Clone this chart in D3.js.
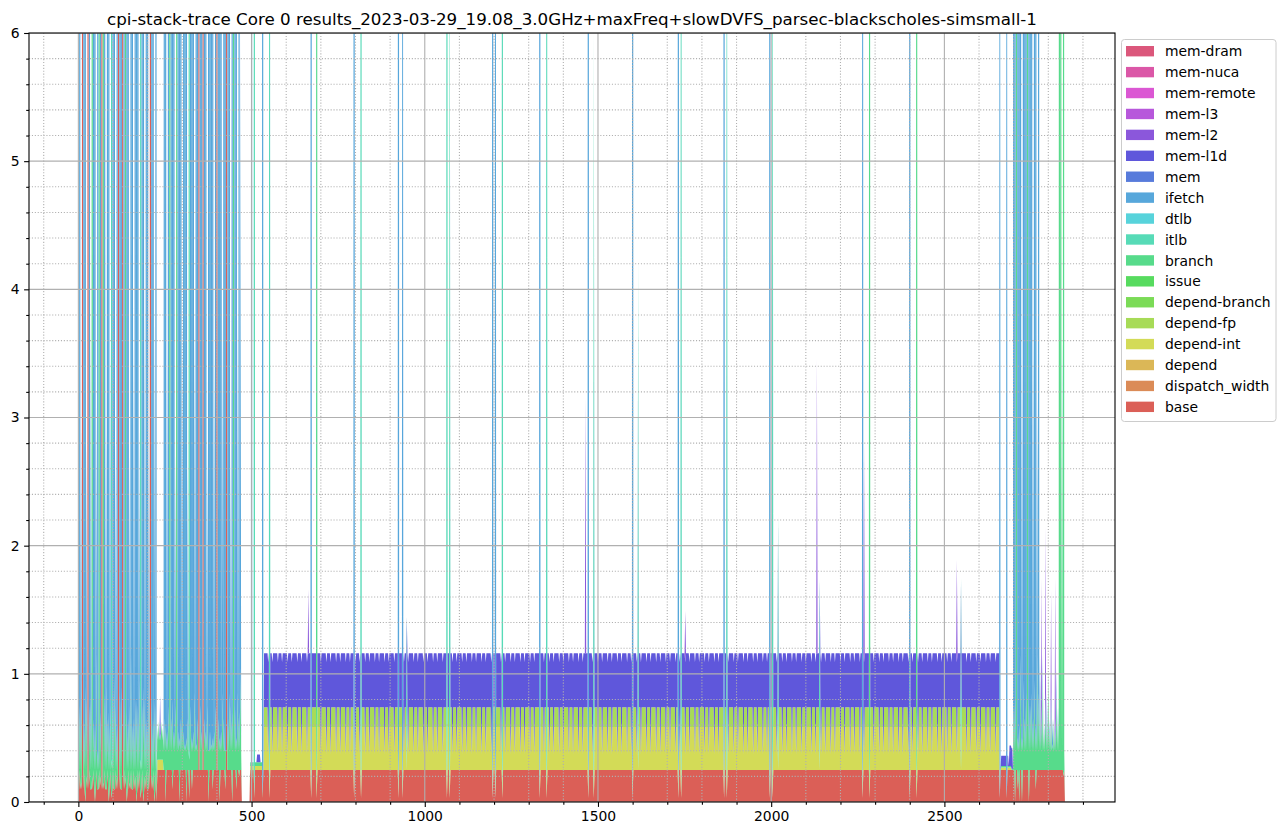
<!DOCTYPE html>
<html><head><meta charset="utf-8">
<script src="https://cdn.jsdelivr.net/npm/d3@7"></script>
<style>
body{margin:0;background:#fff;}
text{font-family:"DejaVu Sans",sans-serif;fill:#000;}
</style>
</head><body>
<svg id="chart" width="1286" height="836"></svg>
<script>
// ---------------- DATA ----------------
const chartTitle = "cpi-stack-trace Core 0 results_2023-03-29_19.08_3.0GHz+maxFreq+slowDVFS_parsec-blackscholes-simsmall-1";
// stack order, bottom to top
const seriesNames = ["base","dispatch_width","depend","depend-int","depend-fp","depend-branch","issue","branch","itlb","dtlb","ifetch","mem","mem-l1d","mem-l2","mem-l3","mem-remote","mem-nuca","mem-dram"];
const xTickValues = [0, 500, 1000, 1500, 2000, 2500];
const yTickValues = [0, 1, 2, 3, 4, 5, 6];
const sampleStep = 2;      // time between samples
const sampleEnd = 2850;    // last sample time
const noisyStep = 4;       // time between listed samples of the noisy phases

// constant runs [from, to, value]
const baseRuns      = [[0, 224, 0.1], [228, 470, 0.25], [496, 2846, 0.25]];
const dependIntRuns = [[228, 244, 0.08], [496, 532, 0.03], [536, 2660, 0.335], [2664, 2692, 0.02]];
const dependFpRuns  = [[536, 2660, 0.155]];
const branchRuns    = [[0, 470, 0.15], [496, 532, 0.03], [2664, 2696, 0.01], [2700, 2846, 0.15]];
const memL1dRuns    = [[516, 524, 0.06], [536, 2660, 0.42], [2664, 2684, 0.08], [2688, 2696, 0.16]];

// noisy start phase, listed every 4 time units from t=0
const ifetchLeft = [5,40,2,1,40,40,2,1,40,3, 1,40,40,2,40,1,40,1,1,40, 2,40,40,3,1,40,40,2,40,1, 40,40,1,40,1,40,40,2,40,40,
  3,40,40,40,2,1,40,40,3,40, 40,2,1,40,40,3,40, 0,0,0,0,0, 40,40,3,40,1,40,40,40,2,1, 40,40,40,3,40,40,40,2,1,40,
  40,40,3,40,40,1,40,40,1,40, 40,2,40,40,40,40,3,40,1,40, 40,40,3,40,40,1,40,40,2,40, 1,40,40,3,40,5,0];
const baseLeft = [0.1,0.25,0.15,40,0.25,0,0.2,40,0.25,0.1, 0.2,0.25,0,0.25,0.1,0.25,0.2,40,0.15,0.25, 0.1,0.25,0,0.25,0.2,0.25,0.1,0.25,0.2,40,
  0.25,0.1,40,0.25,0.2,0,0.25,0.15,0.25,0.1, 0.25,0.2,0,0.25,0.25,0.1,0.25,0,0.2,0.25, 0.1,0.25,40,0.2,0.25,0,0.25, 0.25,0.25,0.25,0.25,0.25,
  0.25,0,0.25,0.25,0.25,0.25,0.1,0.25,0.25,0.25, 0.25,0,0.25,0.25,0.25,0.25,0,0.25,0.25,0.25, 0.1,0.25,0.25,0.25,0.25,40,0.25,0.25,40,0.25,
  0.25,0.25,0,0.25,0.25,0.1,0.25,0.25,40,0.25, 0,0.25,0.25,0.25,0.1,40,0.25,0.25,0.25,0, 0.25,0.25,0.1,0.25,0.2,0.25,0];
const branchLeft = [0.3,0.5,0.8,0.2,0.4,0.9,0.6,0.3,0.5,0.7, 40,0.4,0.6,0.9,0.3,40,0.5,0.4,40,0.6, 0.8,0.4,0.7,0.5,0.3,0.6,0.9,0.5,0.4,0.3,
  0.6,0.8,0.2,0.5,40,0.7,0.4,0.6,0.9,0.5, 0.4,0.6,0.8,0.5,0.7,0.3,0.5,0.9,0.6,0.4, 0.5,0.7,0.3,0.6,0.4,0.8,0.5, 0.25,0.3,0.2,0.3,0.25,
  0.4,0.6,0.3,0.5,40,0.4,0.7,0.3,0.5,40, 0.3,0.5,0.4,0.6,0.3,0.2,0.5,0.4,0.3,0.5, 0.4,0.3,0.6,0.2,0.4,0.3,0.5,0.3,0.2,0.4,
  0.3,0.5,0.4,0.3,0.2,0.4,0.3,0.5,0.3,0.4, 0.5,0.3,0.6,0.4,0.3,0.2,0.4,0.6,0.5,0.7, 40,0.5,0.4,0.6,0.5,0.8,0];

// noisy end phase, listed every 4 time units from t=2696
const rightStart = 2696;
const ifetchRight = [0, 40,40,2,40,40,40,3,40,40,40, 2,40,40,40,3,40,40,2,40, 0.3,0.1,0.2,0.05,0.1,0.2,0,0.1,0.1,0.2,0,0.1,0.2,0.1, 0.5,0.3,0.4,0.2,0];
const baseRight = [0.25, 0.25,0,0.25,0.1,0,0.25,0,0.25,0.25,0.25, 0.25,0,0.25,0.25,0.25,0.25,0.1,0.25,0.25,
  0.25,0.25,0.25,0.25,0.25,0.25,0.25,0.25,0.25,0.25,0.25,0.25,0.25,0.25, 0.25,0.25,0.25,0.2,0];
const branchRight = [0.01, 0.5,0.8,40,0.4,0.6,0.9,0.5,0.7,0.4,0.6, 40,0.8,0.5,0.6,0.4,0.7,0.5,0.9,0.6,
  0.6,0.4,0.7,0.3,0.5,0.4,0.8,0.3,0.5,0.2,0.4,0.3,0.6,0.4, 40,40,3,40,0];

// short dips of the steady phase (times), and the levels reached [depend-int, depend-fp, mem-l1d]
const dipX = [548,560,576,588,604,616,632,644,660,672,688,700,716,728,744,756,772,784,800,812,828,840,856,868,884,896,912,924,940,952,968,980,996,1008,1024,1036,1052,1064,1080,1092,1108,1120,1136,1148,1164,1176,1192,1204,1220,1232,1248,1260,1276,1288,1304,1316,1332,1344,1360,1372,1388,1400,1416,1428,1444,1456,1472,1484,1500,1512,1528,1540,1556,1568,1584,1596,1612,1624,1640,1652,1668,1680,1696,1708,1724,1736,1752,1764,1780,1792,1808,1820,1836,1848,1864,1876,1892,1904,1920,1932,1948,1960,1976,1988,2004,2016,2032,2044,2060,2072,2088,2100,2116,2128,2144,2156,2172,2184,2200,2212,2228,2240,2256,2268,2284,2296,2312,2324,2340,2352,2368,2380,2396,2408,2424,2436,2452,2464,2480,2492,2508,2520,2536,2548,2564,2576,2592,2604,2620,2632,2648];
const dipLevels = [0.12, 0, 0.72];

// single-sample spikes [time, series, value]
const spikes = [
  [96,"itlb",40],[180,"itlb",40],[320,"itlb",40],[236,"mem-l1d",0.3],
  [500,"ifetch",40],[508,"itlb",40],[532,"ifetch",40],[552,"itlb",20],
  [664,"mem-l2",0.5],[672,"ifetch",40],[688,"branch",30],
  [796,"ifetch",40],[816,"itlb",30],
  [924,"ifetch",40],[936,"ifetch",15],[948,"itlb",1.2],
  [1064,"itlb",30],[1072,"itlb",8],
  [1196,"ifetch",40],[1204,"ifetch",20],[1224,"itlb",30],
  [1332,"ifetch",40],[1352,"itlb",20],
  [1464,"mem-l2",2.0],[1472,"ifetch",40],[1488,"itlb",6],
  [1600,"ifetch",40],[1616,"itlb",4],
  [1732,"ifetch",40],[1740,"itlb",15],[1752,"mem-l2",0.4],
  [1864,"ifetch",40],[1872,"itlb",10],
  [1996,"ifetch",40],[2004,"itlb",10],[2020,"itlb",2],
  [2132,"mem-l2",2.3],[2140,"itlb",1.5],
  [2264,"ifetch",20],[2268,"mem-l2",1.7],[2284,"branch",30],
  [2400,"ifetch",40],[2420,"branch",30],
  [2536,"mem-l2",0.8],[2548,"itlb",1.5],
  [2660,"ifetch",15],[2680,"ifetch",15],
  [2780,"mem-l2",1.0],[2792,"mem-l2",1.3],[2808,"mem-l2",0.8],[2820,"mem-l2",1.1]
];

// ---------------- BUILD ROWS ----------------
const rows = d3.range(0, sampleEnd + 1, sampleStep).map(t => {
  const r = {t};
  seriesNames.forEach(k => r[k] = 0);
  return r;
});
const idx = t => Math.round(t / sampleStep);
function applyRuns(key, runs) {
  runs.forEach(([a, b, v]) => { for (let i = idx(a); i <= idx(b); i++) rows[i][key] = v; });
}
applyRuns("base", baseRuns);
applyRuns("depend-int", dependIntRuns);
applyRuns("depend-fp", dependFpRuns);
applyRuns("branch", branchRuns);
applyRuns("mem-l1d", memL1dRuns);
function applySeq(key, start, arr) { arr.forEach((v, j) => { rows[idx(start + j * noisyStep)][key] = v; }); }
applySeq("ifetch", 0, ifetchLeft);
applySeq("base", 0, baseLeft);
applySeq("branch", 0, branchLeft);
applySeq("ifetch", rightStart, ifetchRight);
applySeq("base", rightStart, baseRight);
applySeq("branch", rightStart, branchRight);
dipX.forEach(t => {
  const r = rows[idx(t)];
  if (r["mem-l1d"] > 0.3) { r["depend-int"] = dipLevels[0]; r["depend-fp"] = dipLevels[1]; r["mem-l1d"] = dipLevels[2]; }
});
spikes.forEach(([t, key, v]) => {
  const r = rows[idx(t)];
  if (!key.startsWith("mem")) {
    if (v >= 5) r.base = Math.min(r.base, 0.03);
    r["depend-int"] = 0; r["depend-fp"] = 0; r["mem-l1d"] = 0;
  }
  r[key] += v;
});

// ---------------- DRAW ----------------
const P = {left: 29, right: 1115, top: 33, bottom: 802};
const svg = d3.select("#chart");
const span = sampleEnd;
const x = d3.scaleLinear().domain([-0.05 * span, span * 1.05]).range([P.left, P.right]);
const y = d3.scaleLinear().domain([0, d3.max(yTickValues)]).range([P.bottom, P.top]);
const color = k => d3.hsl((seriesNames.indexOf(k) / seriesNames.length + 0.01) * 360, 0.65, 0.6).formatHex();

svg.append("rect").attr("width", 1286).attr("height", 836).attr("fill", "#fff");
svg.append("defs").append("clipPath").attr("id", "clip")
  .append("rect").attr("x", P.left).attr("y", P.top).attr("width", P.right - P.left).attr("height", P.bottom - P.top);

const stacked = d3.stack().keys(seriesNames)(rows);
const area = d3.area().x(d => x(d.data.t)).y0(d => y(d[0])).y1(d => y(d[1]));
svg.append("g").attr("clip-path", "url(#clip)")
  .selectAll("path").data(stacked).join("path")
  .attr("fill", d => color(d.key)).attr("d", area);

// grid (drawn above the areas)
const xd = x.domain();
const xMinor = d3.range(-100, 3000, 100).filter(v => v % 500 !== 0 && v >= xd[0] && v <= xd[1]);
const yMinor = d3.range(1, 30).map(v => v / 5).filter(v => Math.abs(v - Math.round(v)) > 1e-6);
const grid = svg.append("g").attr("clip-path", "url(#clip)");
grid.selectAll(".gxm").data(xMinor).join("line")
  .attr("x1", d => x(d)).attr("x2", d => x(d)).attr("y1", P.top).attr("y2", P.bottom)
  .attr("stroke", "#b0b0b0").attr("stroke-width", 1.1).attr("stroke-dasharray", "1.1,1.8");
grid.selectAll(".gym").data(yMinor).join("line")
  .attr("y1", d => y(d)).attr("y2", d => y(d)).attr("x1", P.left).attr("x2", P.right)
  .attr("stroke", "#b0b0b0").attr("stroke-width", 1.1).attr("stroke-dasharray", "1.1,1.8");
grid.selectAll(".gx").data(xTickValues).join("line")
  .attr("x1", d => x(d)).attr("x2", d => x(d)).attr("y1", P.top).attr("y2", P.bottom)
  .attr("stroke", "#b0b0b0").attr("stroke-width", 1.1);
grid.selectAll(".gy").data(yTickValues).join("line")
  .attr("y1", d => y(d)).attr("y2", d => y(d)).attr("x1", P.left).attr("x2", P.right)
  .attr("stroke", "#b0b0b0").attr("stroke-width", 1.1);

// axes
const xAxis = svg.append("g").attr("transform", `translate(0,${P.bottom})`)
  .call(d3.axisBottom(x).tickValues(xTickValues).tickSize(4.9).tickPadding(4.5).tickFormat(d3.format("d")));
const xAxisMinor = svg.append("g").attr("transform", `translate(0,${P.bottom})`)
  .call(d3.axisBottom(x).tickValues(xMinor).tickSize(2.8).tickFormat(""));
const yAxis = svg.append("g").attr("transform", `translate(${P.left},0)`)
  .call(d3.axisLeft(y).tickValues(yTickValues).tickSize(4.9).tickPadding(4.5).tickFormat(d3.format("d")));
const yAxisMinor = svg.append("g").attr("transform", `translate(${P.left},0)`)
  .call(d3.axisLeft(y).tickValues(yMinor).tickSize(2.8).tickFormat(""));
[xAxis, xAxisMinor, yAxis, yAxisMinor].forEach(a => {
  a.select(".domain").remove();
  a.selectAll(".tick line").attr("stroke", "#000").attr("stroke-width", 1.1);
  a.selectAll(".tick text").attr("font-size", "13.9px").attr("font-family", "DejaVu Sans").attr("fill", "#000");
});

// spines
svg.append("rect").attr("x", P.left).attr("y", P.top).attr("width", P.right - P.left).attr("height", P.bottom - P.top)
  .attr("fill", "none").attr("stroke", "#000").attr("stroke-width", 1.1);

// title
svg.append("text").attr("x", (P.left + P.right) / 2).attr("y", 24.5).attr("text-anchor", "middle")
  .attr("font-size", "16.7px").text(chartTitle);

// legend
const legendNames = seriesNames.slice().reverse();
const lg = svg.append("g");
lg.append("rect").attr("x", 1121.5).attr("y", 39.5).attr("width", 154.5).attr("height", 382).attr("rx", 3)
  .attr("fill", "#fff").attr("fill-opacity", 0.8).attr("stroke", "#cccccc").attr("stroke-width", 1);
const items = lg.selectAll("g.item").data(legendNames).join("g")
  .attr("transform", (d, i) => `translate(1126,${46 + i * 20.92})`);
items.append("rect").attr("width", 28).attr("height", 10.4).attr("fill", d => color(d));
items.append("text").attr("x", 39).attr("y", 10.3).attr("font-size", "13.9px").text(d => d);
</script>
</body></html>
